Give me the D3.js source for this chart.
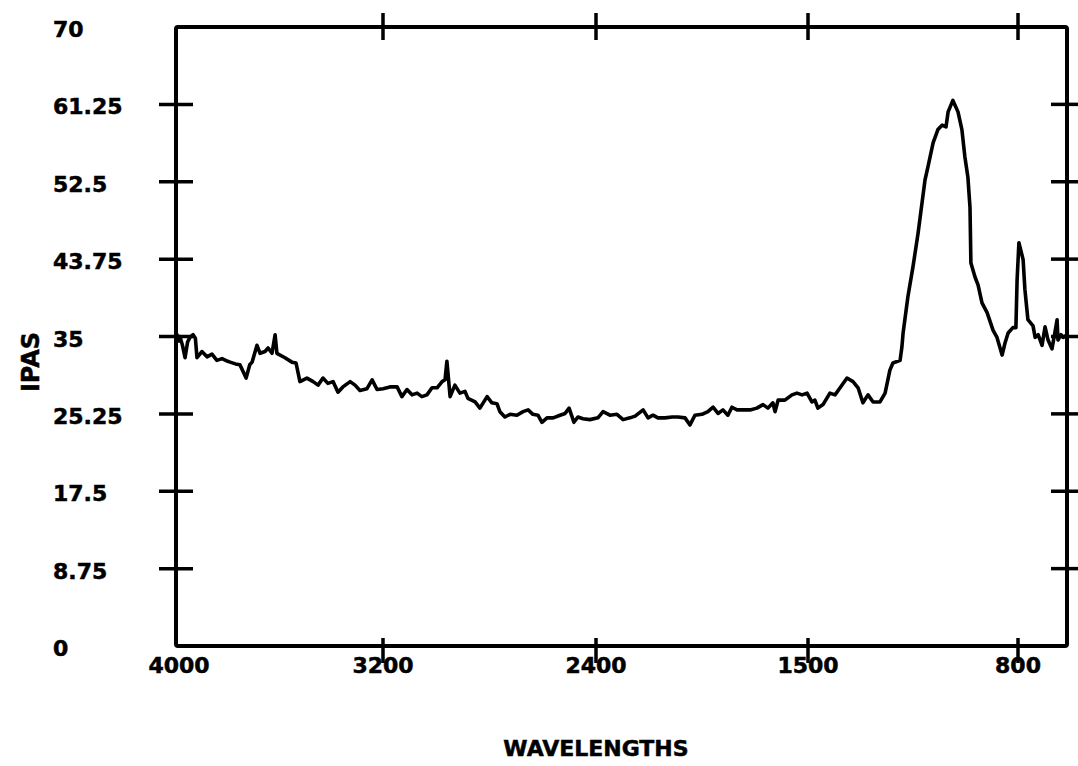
<!DOCTYPE html>
<html>
<head>
<meta charset="utf-8">
<script src="https://cdn.jsdelivr.net/npm/d3@7"></script>
<style>
  html, body { margin: 0; padding: 0; background: #fff; }
  svg { display: block; }
  text { font-family: "DejaVu Sans", sans-serif; font-weight: bold; fill: #000; stroke: #000; stroke-width: 0.5px; }
</style>
</head>
<body>
<svg id="chart" width="1078" height="766"></svg>
<script>
// tick positions along the x frame (the original axis is not linear in wavenumber)
const xTicks = [4000, 3200, 2400, 1500, 800];
const xEnd = 637;
const yTicks = [0, 8.75, 17.5, 26.25, 35, 43.75, 52.5, 61.25, 70];
const yLabels = ["0", "8.75", "17.5", "25.25", "35", "43.75", "52.5", "61.25", "70"];

const wavenumbers = [
  3996, 3990, 3985, 3975, 3965, 3955, 3946, 3934, 3925, 3919, 3900, 3880, 3861, 3842, 3822, 3800,
  3791, 3770, 3753, 3729, 3715, 3706, 3687, 3675, 3656, 3644, 3629, 3617, 3610, 3579, 3552, 3536,
  3521, 3494, 3470, 3451, 3432, 3413, 3393, 3374, 3355, 3327, 3308, 3289, 3262, 3242, 3223, 3200,
  3174, 3147, 3129, 3110, 3091, 3072, 3054, 3035, 3016, 2997, 2978, 2967, 2960, 2948, 2930, 2911,
  2892, 2881, 2854, 2836, 2809, 2791, 2772, 2761, 2742, 2723, 2697, 2674, 2655, 2637, 2618, 2603,
  2584, 2561, 2535, 2516, 2501, 2483, 2468, 2449, 2423, 2392, 2370, 2341, 2311, 2285, 2256, 2234,
  2200, 2179, 2158, 2137, 2107, 2077, 2052, 2022, 2001, 1980, 1950, 1925, 1903, 1882, 1861, 1840,
  1823, 1801, 1776, 1746, 1717, 1691, 1670, 1649, 1640, 1627, 1598, 1568, 1547, 1525, 1504, 1487,
  1477, 1467, 1450, 1427, 1410, 1393, 1370, 1350, 1333, 1317, 1300, 1283, 1260, 1243, 1227, 1217,
  1193, 1187, 1183, 1167, 1150, 1133, 1120, 1110, 1100, 1083, 1067, 1053, 1040, 1033, 1017, 1000,
  987, 977, 967, 960, 957, 943, 933, 920, 903, 883, 870, 853, 843, 833, 817, 807,
  803, 797, 783, 777, 767, 750, 743, 733, 720, 710, 700, 687, 677, 670, 667, 657,
  650, 640
];

const ipas = [
  35.2, 34.5, 35.0, 34.0, 32.6, 34.4, 34.9, 35.2, 34.8, 32.6, 33.3, 32.7, 33.0, 32.3, 32.5, 32.2,
  32.1, 31.9, 31.8, 30.3, 31.8, 32.1, 34.0, 33.1, 33.3, 33.7, 33.1, 35.2, 33.1, 32.6, 32.1, 32.0,
  29.9, 30.3, 29.9, 29.5, 30.3, 29.7, 29.9, 28.7, 29.3, 29.9, 29.5, 28.9, 29.1, 30.1, 29.0, 29.1,
  29.3, 29.3, 28.2, 29.0, 28.4, 28.6, 28.2, 28.4, 29.2, 29.2, 29.9, 30.1, 32.2, 28.2, 29.5, 28.6,
  28.8, 28.0, 27.6, 26.9, 28.2, 27.5, 27.4, 26.5, 25.9, 26.2, 26.1, 26.5, 26.7, 26.2, 26.1, 25.3,
  25.8, 25.8, 26.1, 26.3, 26.9, 25.3, 25.9, 25.7, 25.6, 25.8, 26.5, 26.1, 26.2, 25.6, 25.8, 26.0,
  26.7, 25.8, 26.1, 25.8, 25.8, 25.9, 25.9, 25.8, 25.0, 26.1, 26.2, 26.5, 27.0, 26.3, 26.7, 26.1,
  27.0, 26.7, 26.7, 26.7, 26.9, 27.3, 26.9, 27.5, 26.5, 27.8, 27.8, 28.4, 28.6, 28.4, 28.6, 27.6,
  27.8, 26.9, 27.3, 28.6, 28.4, 29.2, 30.3, 29.9, 29.2, 27.5, 28.4, 27.6, 27.6, 28.6, 31.2, 32.0,
  32.3, 33.8, 35.4, 39.5, 42.9, 46.7, 50.1, 52.7, 54.2, 56.9, 58.4, 58.9, 58.7, 60.4, 61.7, 60.4,
  58.4, 55.3, 53.0, 49.6, 43.3, 41.7, 40.8, 38.8, 37.7, 35.7, 34.9, 32.9, 34.3, 35.4, 36.0, 36.0,
  41.4, 45.6, 43.7, 40.3, 36.9, 36.2, 34.9, 35.2, 34.0, 36.1, 34.6, 33.6, 35.5, 36.9, 34.6, 35.2,
  34.9, 35.1
];

const frame = { left: 176, right: 1067, top: 27, bottom: 646 };
const svg = d3.select("#chart");

const x = d3.scaleLinear()
  .domain([...xTicks, xEnd])
  .range([frame.left, 383, 596, 808, 1018, frame.right]);

const y = d3.scaleLinear()
  .domain([0, 70])
  .range([frame.bottom, frame.top]);

const points = wavenumbers.map((w, i) => [w, ipas[i]]);

// frame
svg.append("rect")
  .attr("x", frame.left)
  .attr("y", frame.top)
  .attr("width", frame.right - frame.left)
  .attr("height", frame.bottom - frame.top)
  .attr("rx", 2)
  .attr("fill", "none")
  .attr("stroke", "#000")
  .attr("stroke-width", 4);

const ticks = svg.append("g").attr("stroke", "#000").attr("stroke-width", 3.5);
const innerY = yTicks.slice(1, -1);
const innerX = xTicks.slice(1);

ticks.selectAll(".yl").data(innerY).join("line")
  .attr("x1", frame.left - 17).attr("x2", frame.left + 17)
  .attr("y1", (d) => y(d)).attr("y2", (d) => y(d));

ticks.selectAll(".yr").data(innerY).join("line")
  .attr("x1", frame.right - 16).attr("x2", frame.right + 14)
  .attr("y1", (d) => y(d)).attr("y2", (d) => y(d));

ticks.selectAll(".xt").data(innerX).join("line")
  .attr("x1", (d) => x(d)).attr("x2", (d) => x(d))
  .attr("y1", frame.top - 14).attr("y2", frame.top + 13);

ticks.selectAll(".xb").data(innerX).join("line")
  .attr("x1", (d) => x(d)).attr("x2", (d) => x(d))
  .attr("y1", frame.bottom - 8).attr("y2", frame.bottom + 17);

// spectrum trace
svg.append("path")
  .datum(points)
  .attr("fill", "none")
  .attr("stroke", "#000")
  .attr("stroke-width", 3.6)
  .attr("stroke-linejoin", "round")
  .attr("stroke-linecap", "round")
  .attr("d", d3.line().x((d) => x(d[0])).y((d) => y(d[1])));

// y tick labels
svg.selectAll(".ylab").data(yTicks).join("text")
  .attr("x", 53)
  .attr("y", (d) => y(d) + 4)
  .attr("dominant-baseline", "middle")
  .attr("font-size", 22)
  .text((d, i) => yLabels[i]);

// x tick labels
svg.selectAll(".xlab").data(xTicks).join("text")
  .attr("x", (d, i) => x(d) + (i === 0 ? 3 : 0))
  .attr("y", 673)
  .attr("text-anchor", "middle")
  .attr("font-size", 22)
  .text((d) => d);

svg.append("text")
  .attr("x", 596)
  .attr("y", 756)
  .attr("text-anchor", "middle")
  .attr("font-size", 22)
  .text("WAVELENGTHS");

svg.append("text")
  .attr("transform", "translate(39,362) rotate(-90)")
  .attr("text-anchor", "middle")
  .attr("font-size", 24)
  .text("IPAS");
</script>
</body>
</html>
